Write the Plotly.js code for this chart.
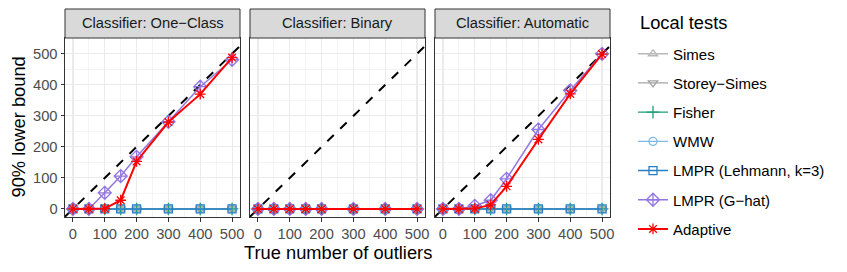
<!DOCTYPE html>
<html>
<head>
<meta charset="utf-8">
<script src="https://cdn.plot.ly/plotly-3.0.1.min.js"></script>
<style>html,body{margin:0;padding:0;background:#fff;}#chart{width:847px;height:272px;}</style>
</head>
<body>
<div id="chart"></div>
<script>
// ---- data ----
const nOutliers = [0, 50, 100, 150, 200, 300, 400, 500];
const panelTitles = ["Classifier: One\u2212Class", "Classifier: Binary", "Classifier: Automatic"];
const methodNames = ["Simes", "Storey\u2212Simes", "Fisher", "WMW", "LMPR (Lehmann, k=3)", "LMPR (G\u2212hat)", "Adaptive"];
const legendTitle = "Local tests";
const xTicks = [0, 100, 200, 300, 400, 500];
const yTicks = [0, 100, 200, 300, 400, 500];
const diagonalRef = [-25, 525];

// values per panel: [One-Class, Binary, Automatic]
const simesVals = [[0,0,0,0,0,0,0,0],[0,0,0,0,0,0,0,0],[0,0,0,0,0,0,0,0]];
const storeyVals = [[0,0,0,0,0,0,0,0],[0,0,0,0,0,0,0,0],[0,0,0,0,0,0,0,0]];
const fisherVals = [[0,0,0,0,0,0,0,0],[0,0,0,0,0,0,0,0],[0,0,0,0,0,0,0,0]];
const wmwVals = [[0,0,0,0,0,0,0,0],[0,0,0,0,0,0,0,0],[0,0,0,0,0,0,0,0]];
const lehmannVals = [[0,0,0,0,0,0,0,0],[0,0,0,0,0,0,0,0],[0,0,0,0,0,0,0,0]];
const ghatVals = [[0,0,52,106,168,281,394,481],[0,0,0,0,0,0,0,0],[0,0,10,28,97,256,382,500]];
const adaptiveVals = [[0,0,1,28,153,280,370,488],[0,0,0,0,0,0,0,0],[0,0,1,13,73,224,371,499]];

// ---- styles ----
const styles = [
  {vals: simesVals, color: "#b8b8b8", symbol: "triangle-up-open", size: 8, lw: 1.3},
  {vals: storeyVals, color: "#a3a3a3", symbol: "triangle-down-open", size: 8, lw: 1.3},
  {vals: fisherVals, color: "#1b9e77", symbol: "cross-thin-open", size: 9, lw: 1.3},
  {vals: wmwVals, color: "#7cbbe8", symbol: "circle-open", size: 8, lw: 1.3},
  {vals: lehmannVals, color: "#2b7fc0", symbol: "square-open", size: 8, lw: 1.5},
  {vals: ghatVals, color: "#9377e0", symbol: "diamond-cross-open", size: 10, lw: 1.5},
  {vals: adaptiveVals, color: "#ff0000", symbol: "asterisk-open", size: 9, lw: 2}
];

const traces = [];
const suffix = ["", "2", "3"];
for (let p = 0; p < 3; p++) {
  traces.push({
    x: diagonalRef, y: diagonalRef, mode: "lines", type: "scatter",
    line: {color: "#000", width: 2, dash: "dash"},
    xaxis: "x" + suffix[p], yaxis: "y" + suffix[p], showlegend: false, hoverinfo: "skip"
  });
  styles.forEach((s, i) => {
    traces.push({
      x: nOutliers, y: s.vals[p], type: "scatter", mode: "lines+markers",
      name: methodNames[i], legendgroup: "g" + i, showlegend: p === 0,
      line: {color: s.color, width: s.lw},
      marker: {symbol: s.symbol, size: s.size, color: s.color, line: {color: s.color, width: 1.3}},
      xaxis: "x" + suffix[p], yaxis: "y" + suffix[p], cliponaxis: false
    });
  });
}

const plotH = 272 - 38 - 55;
const domains = [[0, 175/545], [185/545, 360/545], [370/545, 1]];
const layout = {
  width: 847, height: 272,
  margin: {l: 65, r: 237, t: 38, b: 55, pad: 0},
  paper_bgcolor: "#fff", plot_bgcolor: "#fff",
  font: {family: "Liberation Sans, Arial, sans-serif", color: "#000"},
  showlegend: true,
  legend: {
    font: {size: 15, color: "#000"},
    x: (633 - 65) / 545, xanchor: "left", y: (217 - 37.5) / plotH, yanchor: "top",
    traceorder: "grouped", tracegroupgap: 6.7, itemwidth: 30, bgcolor: "rgba(0,0,0,0)",
    maxheight: 268
  },
  shapes: [], annotations: []
};
for (let p = 0; p < 3; p++) {
  const xa = "xaxis" + suffix[p], ya = "yaxis" + suffix[p];
  layout[xa] = {
    domain: domains[p], range: [-25, 525], anchor: "y" + suffix[p],
    tickvals: xTicks, ticktext: xTicks.map(String),
    showgrid: true, gridcolor: "#ebebeb", gridwidth: 1.1,
    minor: {tickvals: [50, 150, 250, 350, 450], showgrid: true, gridcolor: "#ebebeb", gridwidth: 0.55, ticks: ""},
    zeroline: false, showline: true, mirror: true, linecolor: "#333", linewidth: 1,
    ticks: "outside", ticklen: 3.5, tickcolor: "#333", tickwidth: 1,
    tickfont: {size: 14.7, color: "#4d4d4d"}, fixedrange: true
  };
  layout[ya] = {
    domain: [0, 1], range: [-26, 551], anchor: "x" + suffix[p],
    tickvals: yTicks, ticktext: yTicks.map(String),
    showgrid: true, gridcolor: "#ebebeb", gridwidth: 1.1,
    minor: {tickvals: [50, 150, 250, 350, 450], showgrid: true, gridcolor: "#ebebeb", gridwidth: 0.55, ticks: ""},
    zeroline: false, showline: true, mirror: true, linecolor: "#333", linewidth: 1,
    ticks: p === 0 ? "outside" : "", ticklen: 3.5, tickcolor: "#333", tickwidth: 1,
    showticklabels: p === 0,
    tickfont: {size: 14.7, color: "#4d4d4d"}, fixedrange: true
  };
  layout.shapes.push({
    type: "rect", xref: "x" + suffix[p] + " domain", yref: "paper",
    x0: 0, x1: 1, y0: 1, y1: 1 + 29 / plotH,
    fillcolor: "#d9d9d9", line: {color: "#333", width: 1}
  });
  layout.annotations.push({
    text: panelTitles[p], xref: "x" + suffix[p] + " domain", yref: "paper",
    x: 0.5, y: 1 + 14.5 / plotH, xanchor: "center", yanchor: "middle",
    showarrow: false, font: {size: 14.7, color: "#1a1a1a"}
  });
}
layout.annotations.push({
  text: legendTitle, xref: "paper", yref: "paper",
  x: (638 - 65) / 545, y: (217 - 23) / plotH, xanchor: "left", yanchor: "middle",
  showarrow: false, font: {size: 18.3, color: "#000"}
});
layout.annotations.push({
  text: "True number of outliers", xref: "paper", yref: "paper",
  x: 0.5, y: (217 - 252) / plotH, xanchor: "center", yanchor: "middle",
  showarrow: false, font: {size: 18.3, color: "#000"}
});
layout.annotations.push({
  text: "90% lower bound", xref: "paper", yref: "paper",
  x: (18 - 65) / 545, y: 0.5, xanchor: "center", yanchor: "middle", textangle: -90,
  showarrow: false, font: {size: 18.3, color: "#000"}
});

Plotly.newPlot("chart", traces, layout, {staticPlot: true, displayModeBar: false});
</script>
</body>
</html>
